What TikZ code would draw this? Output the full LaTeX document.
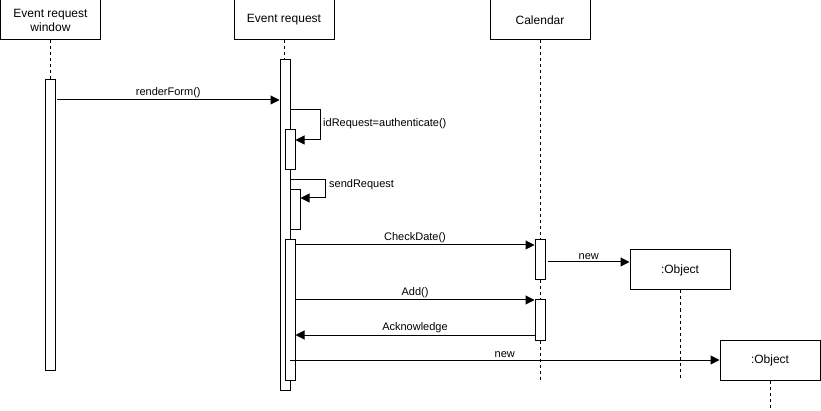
\documentclass[tikz,border=0pt]{standalone}
\usepackage{fontspec}
\setmainfont{Liberation Sans}
\usepackage{tikz}
\usetikzlibrary{arrows.meta, positioning, calc}

\tikzset{
  lifebox/.style={draw, line width=1pt, minimum width=100pt, minimum height=40pt, align=center, inner sep=2pt, font=\fontsize{12}{14}\selectfont},
  actbar/.style={draw, fill=white, line width=1pt, minimum width=10pt, inner sep=0pt},
  lifeline/.style={line width=1pt, dash pattern=on 3pt off 3pt},
  msg/.style={line width=1pt, -{Triangle[length=9pt, width=9pt]}},
  msglabel/.style={font=\fontsize{11}{13}\selectfont, inner sep=2pt}
}

\begin{document}
\begin{tikzpicture}[x=1pt, y=-1pt]
  \useasboundingbox (0,0) rectangle (821,411);

  % Lifeline heads
  \node[lifebox] (win) at (50.5, 20) {Event request\\window};
  \node[lifebox] (req) at (284, 20) {Event request};
  \node[lifebox] (cal) at (540, 20) {Calendar};

  % Dashed lifelines
  \draw[lifeline] (win.south) -- (50.5, 80);
  \draw[lifeline] (req.south) -- (284, 60);
  \draw[lifeline] (cal.south) -- (540, 380);

  % Activation bars
  \node[actbar, minimum height=290pt] (winact) at (50, 225) {};
  \node[actbar, minimum height=330pt] (reqact) at (285, 225) {};
  \node[actbar, minimum height=40pt] (auth) at (290, 150) {};
  \node[actbar, minimum height=40pt] (send) at (295, 210) {};
  \node[actbar, minimum height=140pt] (reqact2) at (290, 310) {};
  \node[actbar, minimum height=40pt] (calact1) at (540, 260) {};
  \node[actbar, minimum height=40pt] (calact2) at (540, 320) {};

  % Created objects
  \node[lifebox] (obj1) at (680, 270) {:Object};
  \node[lifebox] (obj2) at (770, 360) {:Object};
  \draw[lifeline] (obj1.south) -- (680, 378);
  \draw[lifeline] (obj2.south) -- (770, 411);

  % Messages
  \coordinate (rfs) at (57, 100);
  \coordinate (rfe) at (reqact.west |- rfs);
  \draw[msg] (rfs) -- node[msglabel, above] {renderForm()} (rfe);

  \coordinate (aus) at (reqact.east |- 0, 110);
  \coordinate (aue) at (auth.east |- 0, 140);
  \draw[msg] (aus) -- (320, 110) |- (aue);
  \node[msglabel, anchor=west] (aulbl) at (321, 124) {idRequest=authenticate()};

  \coordinate (sds) at (reqact.east |- 0, 180);
  \coordinate (sde) at (send.east |- 0, 198);
  \draw[msg] (sds) -- (325, 180) |- (sde);
  \node[msglabel, anchor=west] (sdlbl) at (327, 185) {sendRequest};

  \coordinate (cds) at (reqact2.east |- 0, 245);
  \coordinate (cde) at (calact1.west |- cds);
  \draw[msg] (cds) -- node[msglabel, above] {CheckDate()} (cde);

  \coordinate (n1s) at (548, 262);
  \coordinate (n1e) at (obj1.west |- n1s);
  \draw[msg] (n1s) -- node[msglabel, above] {new} (n1e);

  \coordinate (ads) at (reqact2.east |- 0, 300);
  \coordinate (ade) at (calact2.west |- ads);
  \draw[msg] (ads) -- node[msglabel, above] {Add()} (ade);

  \coordinate (aks) at (calact2.west |- 0, 335);
  \coordinate (ake) at (reqact2.east |- aks);
  \draw[msg] (aks) -- node[msglabel, above] {Acknowledge} (ake);

  \coordinate (n2s) at (290, 360);
  \coordinate (n2e) at (obj2.west |- n2s);
  \draw[msg] (n2s) -- node[msglabel, above, pos=0.5] {new} (n2e);
\end{tikzpicture}
\end{document}
